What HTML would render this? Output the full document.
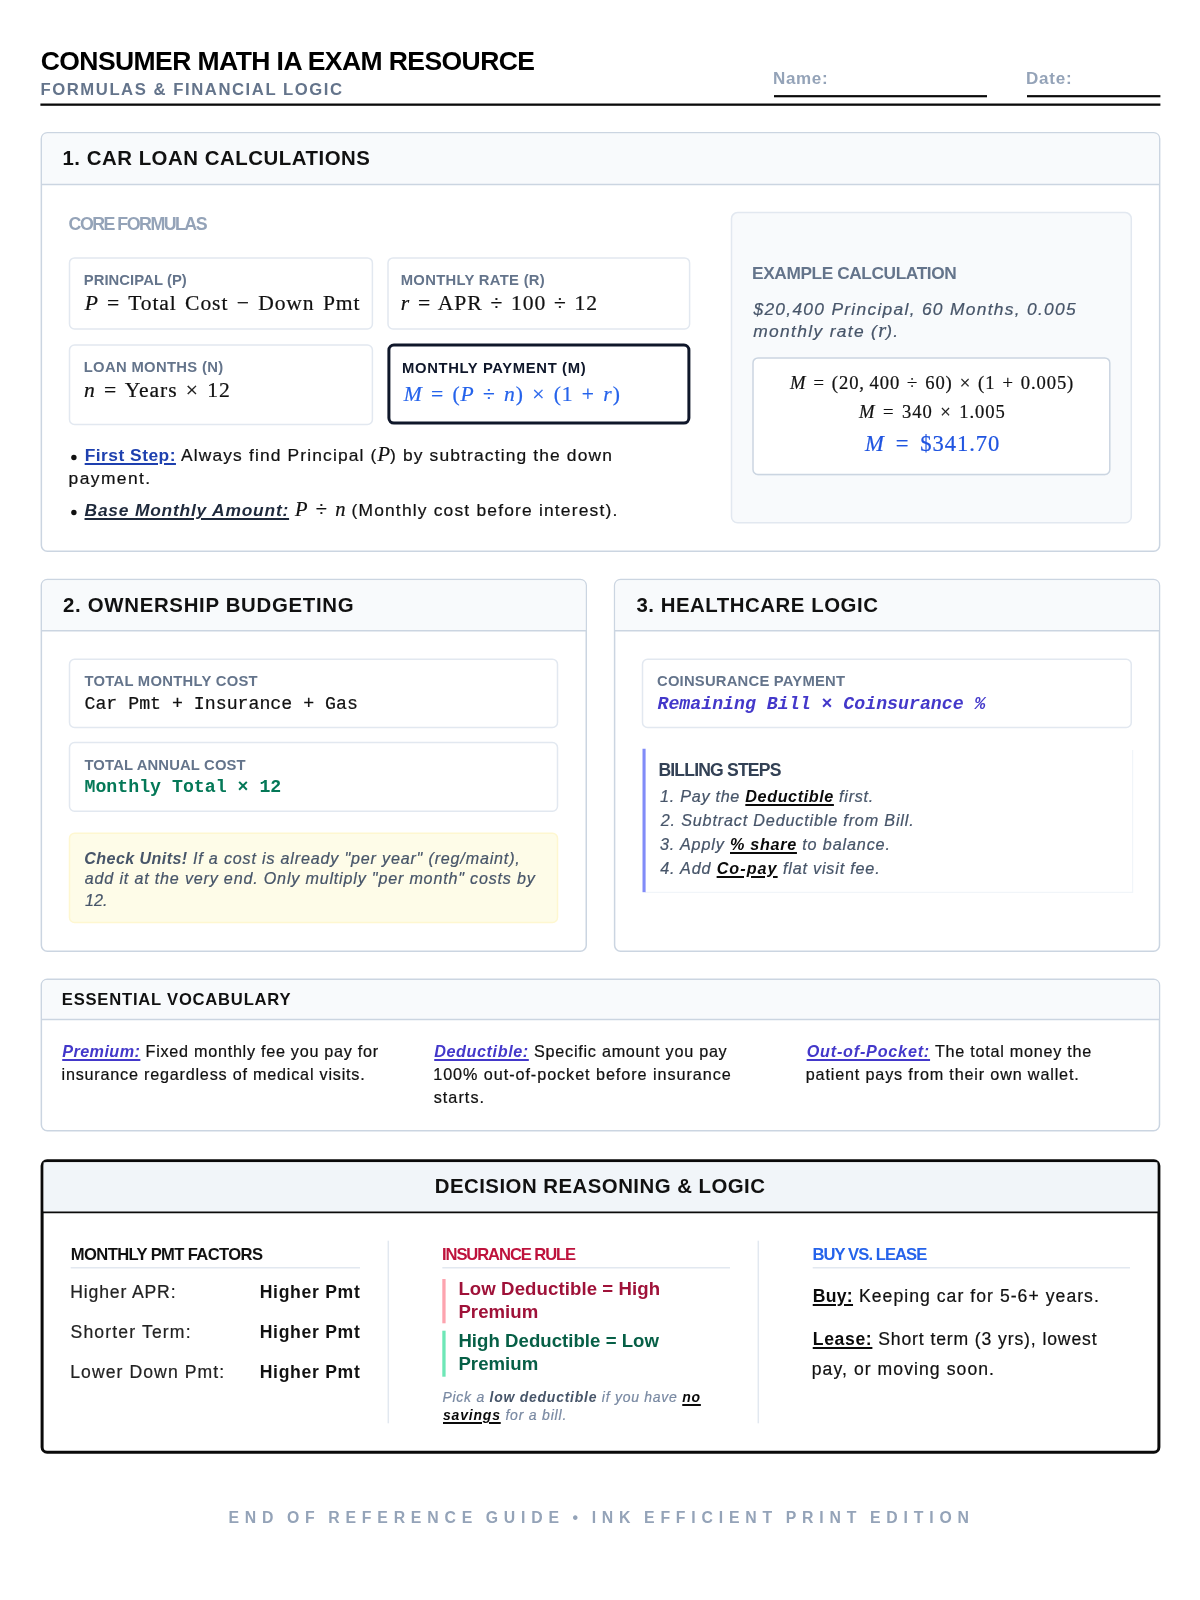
<!DOCTYPE html>
<html>
<head>
<meta charset="utf-8">
<title>Consumer Math IA Exam Resource</title>
<style>
*{box-sizing:border-box;margin:0;padding:0}
html,body{width:1200px;height:1600px;background:#fff;overflow:hidden}
body{font-family:"Liberation Sans",sans-serif;color:#111;position:relative}
svg{position:absolute;left:0;top:0}
#txt{position:absolute;left:0;top:0;width:1200px;height:1600px;will-change:transform;filter:blur(.4px)}
.t{position:absolute;white-space:nowrap;-webkit-text-stroke:.22px currentColor}
.serif{font-family:"Liberation Serif",serif;letter-spacing:.9px}
.mono{font-family:"Liberation Mono",monospace}
.t i,.mi{font-style:italic}
.mi,.mr{font-family:"Liberation Serif",serif;font-size:1.18em;line-height:0;letter-spacing:0}
.u{text-decoration:underline;text-decoration-thickness:1.5px;text-underline-offset:1.8px}
.k{color:#0a0a0a}
b{font-weight:700;-webkit-text-stroke:0}
.nb{-webkit-text-stroke:0}
</style>
</head>
<body>
<svg width="1200" height="1600" viewBox="0 0 1200 1600">
<rect x="774.00" y="95.10" width="213.00" height="2.20" fill="#0a0a0a"/>
<rect x="1027.00" y="95.10" width="133.40" height="2.20" fill="#0a0a0a"/>
<rect x="40.40" y="103.50" width="1120.00" height="2.30" fill="#0a0a0a"/>
<rect x="41.35" y="132.85" width="1118.30" height="418.35" rx="6" fill="#fff" stroke="#cbd5e1" stroke-width="1.5"/>
<path d="M42.10 184.60V138.60Q42.10 133.60 47.10 133.60H1153.90Q1158.90 133.60 1158.90 138.60V184.60Z" fill="#f8fafc"/>
<line x1="41.35" y1="184.60" x2="1159.65" y2="184.60" stroke="#cbd5e1" stroke-width="1.5"/>
<rect x="69.50" y="257.90" width="302.90" height="71.10" rx="5" fill="#fff" stroke="#e2e8f0" stroke-width="1.5"/>
<rect x="388.00" y="257.90" width="301.60" height="71.10" rx="5" fill="#fff" stroke="#e2e8f0" stroke-width="1.5"/>
<rect x="69.50" y="345.00" width="302.90" height="79.40" rx="5" fill="#fff" stroke="#e2e8f0" stroke-width="1.5"/>
<rect x="388.90" y="345.10" width="300.00" height="78.00" rx="5" fill="#fff" stroke="#0f172a" stroke-width="3"/>
<circle cx="73.9" cy="457.5" r="2.7" fill="#111"/><circle cx="73.9" cy="512.5" r="2.7" fill="#111"/>
<rect x="731.50" y="212.60" width="399.80" height="310.10" rx="6" fill="#f8fafc" stroke="#e2e8f0" stroke-width="1.5"/>
<rect x="753.4" y="359.2" width="356" height="116.4" rx="5" fill="#e9edf3"/>
<rect x="753.00" y="357.90" width="356.80" height="116.50" rx="5" fill="#fff" stroke="#cbd5e1" stroke-width="1.5"/>
<rect x="41.35" y="579.40" width="544.90" height="371.85" rx="6" fill="#fff" stroke="#cbd5e1" stroke-width="1.5"/>
<path d="M42.10 630.75V585.15Q42.10 580.15 47.10 580.15H580.50Q585.50 580.15 585.50 585.15V630.75Z" fill="#f8fafc"/>
<line x1="41.35" y1="630.75" x2="586.25" y2="630.75" stroke="#cbd5e1" stroke-width="1.5"/>
<rect x="69.50" y="659.25" width="488.00" height="68.25" rx="5" fill="#fff" stroke="#e2e8f0" stroke-width="1.5"/>
<rect x="69.50" y="742.50" width="488.00" height="68.75" rx="5" fill="#fff" stroke="#e2e8f0" stroke-width="1.5"/>
<rect x="69.50" y="833.25" width="488.00" height="89.25" rx="5" fill="#fefce8" stroke="#fef7d0" stroke-width="1.5"/>
<rect x="614.60" y="579.40" width="544.90" height="371.85" rx="6" fill="#fff" stroke="#cbd5e1" stroke-width="1.5"/>
<path d="M615.35 630.75V585.15Q615.35 580.15 620.35 580.15H1153.75Q1158.75 580.15 1158.75 585.15V630.75Z" fill="#f8fafc"/>
<line x1="614.60" y1="630.75" x2="1159.50" y2="630.75" stroke="#cbd5e1" stroke-width="1.5"/>
<rect x="642.50" y="659.25" width="488.75" height="68.25" rx="5" fill="#fff" stroke="#e2e8f0" stroke-width="1.5"/>
<path d="M645 892.3H1132.6V750" fill="none" stroke="#f1f5f9" stroke-width="1.3"/>
<rect x="642.50" y="748.75" width="3.10" height="143.45" fill="#818cf8"/>
<rect x="41.35" y="979.30" width="1118.15" height="151.40" rx="6" fill="#fff" stroke="#cbd5e1" stroke-width="1.5"/>
<path d="M42.10 1019.40V985.05Q42.10 980.05 47.10 980.05H1153.75Q1158.75 980.05 1158.75 985.05V1019.40Z" fill="#f8fafc"/>
<line x1="41.35" y1="1019.40" x2="1159.50" y2="1019.40" stroke="#cbd5e1" stroke-width="1.5"/>
<rect x="42.10" y="1160.80" width="1116.80" height="291.40" rx="5" fill="#fff" stroke="#0a0a0a" stroke-width="3"/>
<rect x="43.60" y="1162.30" width="1113.80" height="49.50" fill="#f1f5f9"/>
<line x1="43.00" y1="1212.40" x2="1158.00" y2="1212.40" stroke="#0a0a0a" stroke-width="1.6"/>
<line x1="70.70" y1="1267.70" x2="360.00" y2="1267.70" stroke="#e2e8f0" stroke-width="1.5"/>
<line x1="442.30" y1="1267.70" x2="730.00" y2="1267.70" stroke="#e2e8f0" stroke-width="1.5"/>
<line x1="812.70" y1="1267.70" x2="1130.00" y2="1267.70" stroke="#e2e8f0" stroke-width="1.5"/>
<line x1="388.30" y1="1240.70" x2="388.30" y2="1423.30" stroke="#e2e8f0" stroke-width="1.5"/>
<line x1="758.30" y1="1240.70" x2="758.30" y2="1423.30" stroke="#e2e8f0" stroke-width="1.5"/>
<rect x="442.30" y="1279.00" width="3.30" height="44.30" fill="#fda4af"/>
<rect x="442.30" y="1330.70" width="3.30" height="46.00" fill="#6ee7b7"/>
</svg>
<div id="txt">
<div class="t nb" id="title" style="left:40.78px;top:42.51px;font-size:26.5px;line-height:37px;color:#000;font-weight:700;letter-spacing:-0.575px;">CONSUMER MATH IA EXAM RESOURCE</div>
<div class="t nb" id="sub" style="left:40.51px;top:77.91px;font-size:16.7px;line-height:23px;color:#64748b;font-weight:700;letter-spacing:1.541px;">FORMULAS &amp; FINANCIAL LOGIC</div>
<div class="t nb" id="name" style="left:773.00px;top:67.31px;font-size:17px;line-height:24px;color:#94a3b8;font-weight:700;letter-spacing:0.667px;">Name:</div>
<div class="t nb" id="date" style="left:1026.00px;top:67.31px;font-size:17px;line-height:24px;color:#94a3b8;font-weight:700;letter-spacing:0.780px;">Date:</div>
<div class="t nb" id="s1h" style="left:62.41px;top:143.63px;font-size:20.4px;line-height:29px;font-weight:700;letter-spacing:0.530px;">1. CAR LOAN CALCULATIONS</div>
<div class="t nb" id="core" style="left:68.61px;top:211.53px;font-size:17.8px;line-height:25px;color:#94a3b8;font-weight:700;letter-spacing:-1.510px;">CORE FORMULAS</div>
<div class="t nb" id="l1" style="left:83.74px;top:270.07px;font-size:14.8px;line-height:21px;color:#64748b;font-weight:700;letter-spacing:0.070px;">PRINCIPAL (P)</div>
<div class="t nb" id="l2" style="left:400.74px;top:270.07px;font-size:14.8px;line-height:21px;color:#64748b;font-weight:700;letter-spacing:0.305px;">MONTHLY RATE (R)</div>
<div class="t nb" id="l3" style="left:83.74px;top:357.07px;font-size:14.8px;line-height:21px;color:#64748b;font-weight:700;letter-spacing:0.330px;">LOAN MONTHS (N)</div>
<div class="t nb" id="l4" style="left:402.00px;top:358.17px;font-size:14.8px;line-height:21px;color:#0f172a;font-weight:700;letter-spacing:0.655px;">MONTHLY PAYMENT (M)</div>
<div class="t serif" id="m1" style="left:84.63px;top:288.41px;font-size:21.6px;line-height:30px;word-spacing:2.079px;"><i>P</i> = Total Cost &minus; Down Pmt</div>
<div class="t serif" id="m2" style="left:400.85px;top:288.11px;font-size:21.6px;line-height:30px;word-spacing:1.577px;"><i>r</i> = APR &divide; 100 &divide; 12</div>
<div class="t serif" id="m3" style="left:83.96px;top:374.91px;font-size:21.6px;line-height:30px;word-spacing:2.106px;"><i>n</i> = Years &times; 12</div>
<div class="t serif" id="m4" style="left:403.74px;top:378.91px;font-size:21.6px;line-height:30px;color:#2563eb;word-spacing:2.067px;"><i>M</i> = (<i>P</i> &divide; <i>n</i>) &times; (1 + <i>r</i>)</div>
<div class="t" id="b1" style="left:84.68px;top:443.42px;font-size:17.4px;line-height:24px;letter-spacing:1.148px;"><b id="bfs" class="u" style="letter-spacing:0.480px;color:#1e40af">First Step:</b> Always find Principal (<span class="mi">P</span>) by subtracting the down</div>
<div class="t" id="b1b" style="left:68.56px;top:465.92px;font-size:17.4px;line-height:24px;letter-spacing:1.433px;">payment.</div>
<div class="t" id="b2" style="left:84.54px;top:498.42px;font-size:17.4px;line-height:24px;letter-spacing:1.192px;"><b id="bbm" class="u" style="letter-spacing:0.791px;font-style:italic;color:#1e293b">Base Monthly Amount:</b> <span class="mi">P</span><span class="mr" style="margin:0 3px"> &divide; </span><span class="mi">n</span> (Monthly cost before interest).</div>
<div class="t nb" id="ext" style="left:752.10px;top:260.80px;font-size:17.3px;line-height:24px;color:#64748b;font-weight:700;letter-spacing:-0.402px;">EXAMPLE CALCULATION</div>
<div class="t" id="ex1" style="left:753.43px;top:297.17px;font-size:17.4px;line-height:24px;color:#475569;font-style:italic;letter-spacing:1.286px;">$20,400 Principal, 60 Months, 0.005</div>
<div class="t" id="ex2" style="left:753.25px;top:319.37px;font-size:17.4px;line-height:24px;color:#475569;font-style:italic;letter-spacing:1.333px;">monthly rate (<span class="mi">r</span>).</div>
<div class="t serif" id="em1" style="left:790.06px;top:369.52px;font-size:18.6px;line-height:26px;word-spacing:1.459px;"><i>M</i> = (20,&thinsp;400 &divide; 60) &times; (1 + 0.005)</div>
<div class="t serif" id="em2" style="left:859.03px;top:399.42px;font-size:18.6px;line-height:26px;word-spacing:2.077px;"><i>M</i> = 340 &times; 1.005</div>
<div class="t serif" id="em3" style="left:864.92px;top:428.37px;font-size:22.6px;line-height:32px;color:#1f54e0;word-spacing:4.484px;"><i>M</i> = $341.70</div>
<div class="t nb" id="s2h" style="left:62.98px;top:590.83px;font-size:20.4px;line-height:29px;font-weight:700;letter-spacing:0.693px;">2. OWNERSHIP BUDGETING</div>
<div class="t nb" id="l5" style="left:84.44px;top:671.32px;font-size:14.8px;line-height:21px;color:#64748b;font-weight:700;letter-spacing:0.274px;">TOTAL MONTHLY COST</div>
<div class="t nb" id="l6" style="left:84.44px;top:754.57px;font-size:14.8px;line-height:21px;color:#64748b;font-weight:700;letter-spacing:0.159px;">TOTAL ANNUAL COST</div>
<div class="t mono" id="mo1" style="left:84.50px;top:691.10px;font-size:18.23px;line-height:26px;">Car Pmt + Insurance + Gas</div>
<div class="t mono nb" id="mo2" style="left:84.50px;top:774.35px;font-size:18.23px;line-height:26px;color:#047857;font-weight:700;">Monthly Total &times; 12</div>
<div class="t" id="y1" style="left:84.23px;top:846.62px;font-size:16.1px;line-height:23px;color:#475569;font-style:italic;letter-spacing:0.825px;"><b id="bcu" style="letter-spacing:0.420px;">Check Units!</b> If a cost is already "per year" (reg/maint),</div>
<div class="t" id="y2" style="left:84.82px;top:866.87px;font-size:16.1px;line-height:23px;color:#475569;font-style:italic;letter-spacing:0.821px;">add it at the very end. Only multiply "per month" costs by</div>
<div class="t" id="y3" style="left:85.00px;top:888.62px;font-size:16.1px;line-height:23px;color:#475569;font-style:italic;">12.</div>
<div class="t nb" id="s3h" style="left:636.41px;top:590.83px;font-size:20.4px;line-height:29px;font-weight:700;letter-spacing:0.533px;">3. HEALTHCARE LOGIC</div>
<div class="t nb" id="l7" style="left:656.99px;top:671.32px;font-size:14.8px;line-height:21px;color:#64748b;font-weight:700;letter-spacing:0.213px;">COINSURANCE PAYMENT</div>
<div class="t mono nb" id="mo3" style="left:657.50px;top:691.10px;font-size:18.23px;line-height:26px;color:#4338ca;font-weight:700;font-style:italic;">Remaining Bill &times; Coinsurance %</div>
<div class="t nb" id="bst" style="left:658.41px;top:758.20px;font-size:17.6px;line-height:25px;color:#334155;font-weight:700;letter-spacing:-0.830px;">BILLING STEPS</div>
<div class="t" id="st1" style="left:659.99px;top:784.83px;font-size:16.2px;line-height:23px;color:#475569;font-style:italic;letter-spacing:0.721px;">1. Pay the <b id="bs1" class="u k" style="letter-spacing:0.583px;">Deductible</b> first.</div>
<div class="t" id="st2" style="left:660.74px;top:808.58px;font-size:16.2px;line-height:23px;color:#475569;font-style:italic;letter-spacing:0.818px;">2. Subtract Deductible from Bill.</div>
<div class="t" id="st3" style="left:660.03px;top:833.08px;font-size:16.2px;line-height:23px;color:#475569;font-style:italic;letter-spacing:0.844px;">3. Apply <b id="bs3" class="u k" style="letter-spacing:0.693px;">% share</b> to balance.</div>
<div class="t" id="st4" style="left:660.30px;top:856.83px;font-size:16.2px;line-height:23px;color:#475569;font-style:italic;letter-spacing:0.803px;">4. Add <b id="bs4" class="u k" style="letter-spacing:1.025px;">Co-pay</b> flat visit fee.</div>
<div class="t nb" id="s4h" style="left:61.84px;top:987.95px;font-size:16.6px;line-height:23px;font-weight:700;letter-spacing:0.779px;">ESSENTIAL VOCABULARY</div>
<div class="t" id="v1a" style="left:62.22px;top:1039.78px;font-size:16.2px;line-height:23px;letter-spacing:0.724px;"><b id="bvPr" class="u" style="letter-spacing:0.433px;font-style:italic;color:#4338ca">Premium:</b> Fixed monthly fee you pay for</div>
<div class="t" id="v1b" style="left:61.51px;top:1063.08px;font-size:16.2px;line-height:23px;letter-spacing:0.782px;">insurance regardless of medical visits.</div>
<div class="t" id="v2a" style="left:434.22px;top:1039.78px;font-size:16.2px;line-height:23px;letter-spacing:0.741px;"><b id="bvDe" class="u" style="letter-spacing:0.586px;font-style:italic;color:#4338ca">Deductible:</b> Specific amount you pay</div>
<div class="t" id="v2b" style="left:433.19px;top:1063.08px;font-size:16.2px;line-height:23px;letter-spacing:0.943px;">100% out-of-pocket before insurance</div>
<div class="t" id="v2c" style="left:433.70px;top:1086.38px;font-size:16.2px;line-height:23px;letter-spacing:1.046px;">starts.</div>
<div class="t" id="v3a" style="left:806.67px;top:1039.78px;font-size:16.2px;line-height:23px;letter-spacing:0.738px;"><b id="bvOu" class="u" style="letter-spacing:0.784px;font-style:italic;color:#4338ca">Out-of-Pocket:</b> The total money the</div>
<div class="t" id="v3b" style="left:805.74px;top:1063.08px;font-size:16.2px;line-height:23px;letter-spacing:0.832px;">patient pays from their own wallet.</div>
<div class="t nb" id="s5h" style="left:434.74px;top:1172.33px;font-size:20.4px;line-height:29px;font-weight:700;letter-spacing:0.476px;">DECISION REASONING &amp; LOGIC</div>
<div class="t nb" id="h1" style="left:70.84px;top:1243.25px;font-size:16.6px;line-height:23px;font-weight:700;letter-spacing:-0.626px;">MONTHLY PMT FACTORS</div>
<div class="t nb" id="h2" style="left:442.00px;top:1243.25px;font-size:16.6px;line-height:23px;color:#be123c;font-weight:700;letter-spacing:-1.101px;">INSURANCE RULE</div>
<div class="t nb" id="h3" style="left:812.53px;top:1243.25px;font-size:16.6px;line-height:23px;color:#2563eb;font-weight:700;letter-spacing:-0.935px;">BUY VS. LEASE</div>
<div class="t" id="r0a" style="left:70.19px;top:1279.90px;font-size:17.6px;line-height:25px;color:#222;letter-spacing:0.853px;">Higher APR:</div>
<div class="t nb" id="r0b" style="left:259.66px;top:1279.90px;font-size:17.6px;line-height:25px;font-weight:700;letter-spacing:0.696px;">Higher Pmt</div>
<div class="t" id="r1a" style="left:70.50px;top:1319.90px;font-size:17.6px;line-height:25px;color:#222;letter-spacing:1.148px;">Shorter Term:</div>
<div class="t nb" id="r1b" style="left:259.66px;top:1319.90px;font-size:17.6px;line-height:25px;font-weight:700;letter-spacing:0.696px;">Higher Pmt</div>
<div class="t" id="r2a" style="left:70.19px;top:1359.90px;font-size:17.6px;line-height:25px;color:#222;letter-spacing:1.077px;">Lower Down Pmt:</div>
<div class="t nb" id="r2b" style="left:259.66px;top:1359.90px;font-size:17.6px;line-height:25px;font-weight:700;letter-spacing:0.696px;">Higher Pmt</div>
<div class="t nb" id="d1" style="left:458.41px;top:1275.65px;font-size:18.6px;line-height:26px;color:#9f1239;font-weight:700;letter-spacing:0.092px;">Low Deductible = High</div>
<div class="t nb" id="d2" style="left:458.41px;top:1299.05px;font-size:18.6px;line-height:26px;color:#9f1239;font-weight:700;letter-spacing:0.048px;">Premium</div>
<div class="t nb" id="d3" style="left:458.42px;top:1328.05px;font-size:18.6px;line-height:26px;color:#065f46;font-weight:700;letter-spacing:0.034px;">High Deductible = Low</div>
<div class="t nb" id="d4" style="left:458.42px;top:1350.75px;font-size:18.6px;line-height:26px;color:#065f46;font-weight:700;letter-spacing:0.048px;">Premium</div>
<div class="t" id="n1" style="left:442.42px;top:1387.05px;font-size:14px;line-height:20px;color:#7a8aa3;font-style:italic;letter-spacing:0.738px;">Pick a <b style="color:#475569">low deductible</b> if you have <b class="u k">no</b></div>
<div class="t" id="n2" style="left:443.00px;top:1405.35px;font-size:14px;line-height:20px;color:#7a8aa3;font-style:italic;letter-spacing:0.798px;"><b class="u k">savings</b> for a bill.</div>
<div class="t" id="bl1" style="left:812.74px;top:1283.90px;font-size:17.6px;line-height:25px;letter-spacing:1.045px;"><b id="bbuy" class="u k" style="letter-spacing:0.297px;">Buy:</b> Keeping car for 5-6+ years.</div>
<div class="t" id="bl2" style="left:812.74px;top:1326.60px;font-size:17.6px;line-height:25px;letter-spacing:0.880px;"><b id="blease" class="u k" style="letter-spacing:0.650px;">Lease:</b> Short term (3 yrs), lowest</div>
<div class="t" id="bl3" style="left:811.74px;top:1356.60px;font-size:17.6px;line-height:25px;letter-spacing:1.064px;">pay, or moving soon.</div>
<div class="t nb" id="foot" style="left:228.40px;top:1507.32px;font-size:15.8px;line-height:22px;color:#94a3b8;font-weight:700;letter-spacing:5.822px;word-spacing:-2.5px;">END OF REFERENCE GUIDE &bull; INK EFFICIENT PRINT EDITION</div>
</div>
</body>
</html>
